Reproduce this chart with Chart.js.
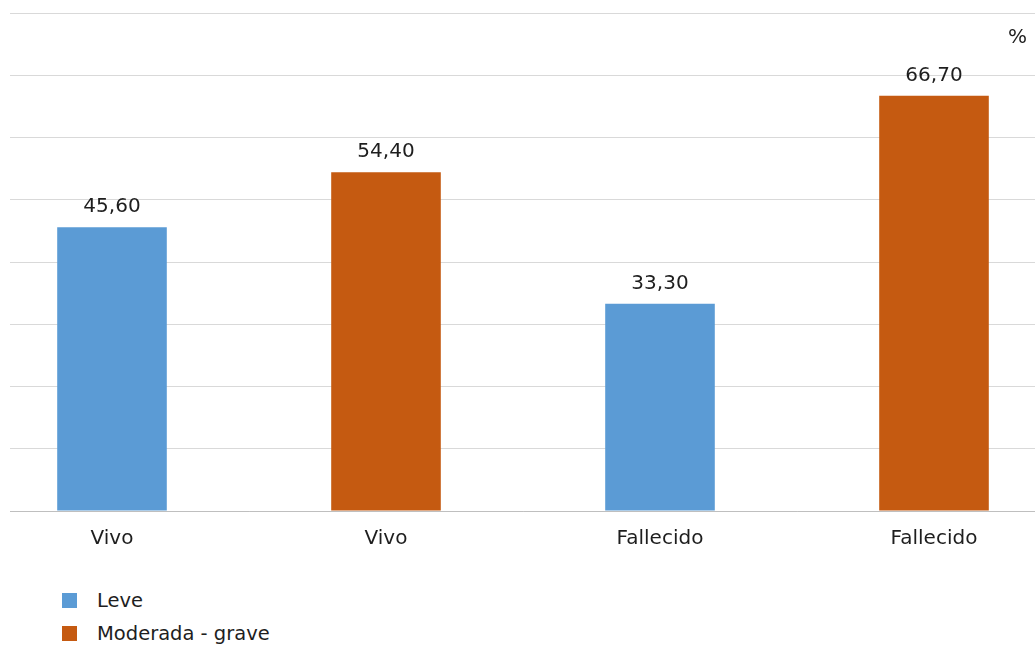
<!DOCTYPE html>
<html>
<head>
<meta charset="utf-8">
<script src="https://cdn.jsdelivr.net/npm/chart.js@4"></script>
<style>
  body { margin: 0; background: #fff; font-family: "DejaVu Sans", Verdana, sans-serif; }
  #clip { position: absolute; left: 10px; top: 0; width: 1025px; height: 580px; overflow: hidden; }
  #box { position: absolute; left: -35px; top: 0; width: 1096px; height: 567px; }
  #pct { position: absolute; left: 1008px; top: 24px; font-size: 20px; color: #1e1e1e; }
  #legend { position: absolute; left: 62px; top: 584px; margin: 0; padding: 0; list-style: none; }
  #legend li { height: 33px; font-size: 19.5px; color: #1e1e1e; display: flex; align-items: center; }
  #legend span { display: inline-block; width: 15px; height: 15px; margin-right: 20px; }
</style>
</head>
<body>
<div id="clip"><div id="box"><canvas id="chart"></canvas></div></div>
<div id="pct">%</div>
<ul id="legend"></ul>
<script>
//! Data

const categories = ["Vivo", "Vivo", "Fallecido", "Fallecido"];
const leve = [45.6, null, 33.3, null];
const moderada = [null, 54.4, null, 66.7];
const seriesNames = ["Leve", "Moderada - grave"];
const colors = ["#5b9bd5", "#c55a11"];

//! Value labels above bars

const valueLabels = {
  id: "valueLabels",
  afterDatasetsDraw(chart) {
    const ctx = chart.ctx;
    ctx.save();
    ctx.font = "20px 'DejaVu Sans'";
    ctx.fillStyle = "#1e1e1e";
    ctx.textAlign = "center";
    ctx.textBaseline = "alphabetic";
    chart.data.datasets.forEach((ds, i) => {
      chart.getDatasetMeta(i).data.forEach((bar, j) => {
        const v = ds.data[j];
        if (v == null) return;
        ctx.fillText(v.toFixed(2).replace(".", ","), bar.x, bar.y - 15);
      });
    });
    ctx.restore();
  },
};

//! Chart JS

new Chart(document.getElementById("chart"), {
  type: "bar",
  data: {
    labels: categories,
    datasets: [
      { label: seriesNames[0], data: leve, backgroundColor: colors[0] },
      { label: seriesNames[1], data: moderada, backgroundColor: colors[1] },
    ],
  },
  options: {
    responsive: true,
    maintainAspectRatio: false,
    animation: false,
    grouped: false,
    categoryPercentage: 1,
    barPercentage: 0.4,
    layout: { padding: { top: 13, left: 0, right: 0, bottom: 0 } },
    plugins: {
      legend: { display: false },
      tooltip: { enabled: false },
    },
    scales: {
      x: {
        grid: { display: false, drawTicks: false },
        border: { color: "#bfbfbf" },
        ticks: {
          color: "#1e1e1e",
          padding: 16,
          font: { family: "DejaVu Sans", size: 20 },
        },
      },
      y: {
        min: 0,
        max: 80,
        ticks: { display: false, stepSize: 10 },
        grid: { color: "#d9d9d9", drawTicks: false },
        border: { display: false },
      },
    },
  },
  plugins: [valueLabels],
});

// legend
const legend = document.getElementById("legend");
seriesNames.forEach((name, i) => {
  const li = document.createElement("li");
  li.innerHTML = '<span style="background:' + colors[i] + '"></span>' + name;
  legend.appendChild(li);
});
</script>
</body>
</html>
